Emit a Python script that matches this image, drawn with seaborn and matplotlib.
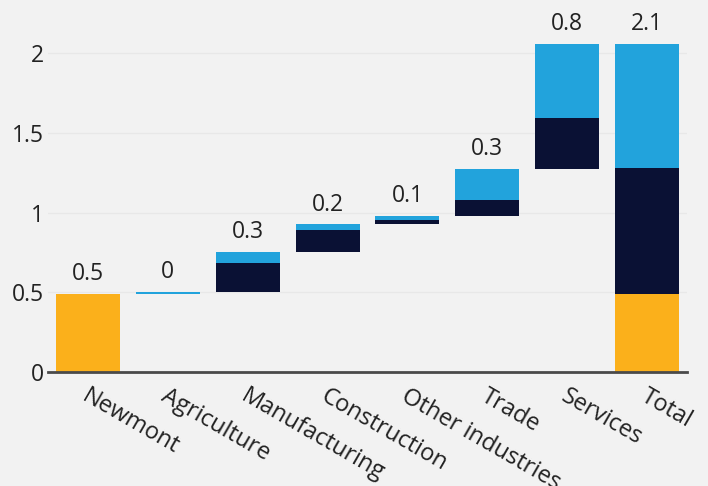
import matplotlib
matplotlib.use("Agg")
import matplotlib.pyplot as plt
import matplotlib.transforms as mtransforms
import seaborn as sns
import numpy as np
import pandas as pd

categories = ["Newmont", "Agriculture", "Manufacturing", "Construction",
              "Other industries", "Trade", "Services", "Total"]
newmont_value = 0.49
sectors = ["Agriculture", "Manufacturing", "Construction", "Other industries", "Trade", "Services"]
sector_dark = [0.0, 0.182, 0.138, 0.031, 0.095, 0.32]
sector_blue = [0.015, 0.069, 0.032, 0.025, 0.197, 0.465]
total_orange = 0.49
total_dark = 0.791
total_blue = 0.778
y_ticks = [0, 0.5, 1, 1.5, 2]
y_tick_labels = ["0", "0.5", "1", "1.5", "2"]

ORANGE = "#FBB01B"
NAVY = "#0A1134"
BLUE = "#22A3DC"
BG = "#F2F2F2"
TEXT = "#222222"

# build arrays
n = len(categories)
orange_h = np.zeros(n)
orange_b = np.zeros(n)
dark_h = np.zeros(n)
dark_b = np.zeros(n)
blue_h = np.zeros(n)
blue_b = np.zeros(n)
tops = np.zeros(n)
changes = np.zeros(n)

orange_h[0] = newmont_value
tops[0] = newmont_value
changes[0] = newmont_value
level = newmont_value
for i, s in enumerate(sectors):
    k = categories.index(s)
    dark_b[k] = level
    dark_h[k] = sector_dark[i]
    level += sector_dark[i]
    blue_b[k] = level
    blue_h[k] = sector_blue[i]
    level += sector_blue[i]
    tops[k] = level
    changes[k] = sector_dark[i] + sector_blue[i]
k = n - 1
orange_h[k] = total_orange
dark_b[k] = total_orange
dark_h[k] = total_dark
blue_b[k] = total_orange + total_dark
blue_h[k] = total_blue
tops[k] = total_orange + total_dark + total_blue
changes[k] = tops[k]

df = pd.DataFrame({"category": categories, "orange": orange_h, "orange_b": orange_b,
                   "dark": dark_h, "dark_b": dark_b, "blue": blue_h, "blue_b": blue_b})

sns.set_theme(style="white")
plt.rcParams["font.family"] = ["Open Sans", "DejaVu Sans"]

fig = plt.figure(figsize=(7.08, 4.86), dpi=100, facecolor=BG)
ax = fig.add_axes([48 / 708, 1 - 372 / 486, 639 / 708, 366.4 / 486])
ax.set_facecolor(BG)

sns.barplot(data=df, x="category", y="orange", order=categories, color=ORANGE,
            bottom=df["orange_b"].values, width=0.8, saturation=1, ax=ax, linewidth=0, zorder=3)
sns.barplot(data=df, x="category", y="dark", order=categories, color=NAVY,
            bottom=df["dark_b"].values, width=0.8, saturation=1, ax=ax, linewidth=0, zorder=3)
sns.barplot(data=df, x="category", y="blue", order=categories, color=BLUE,
            bottom=df["blue_b"].values, width=0.8, saturation=1, ax=ax, linewidth=0, zorder=3)

ax.set_ylim(0, 2.3)
ax.set_xlim(-0.5, n - 0.5)
ax.set_yticks(y_ticks)
ax.set_yticklabels(y_tick_labels)
ax.set_xlabel("")
ax.set_ylabel("")

for y in y_ticks[1:]:
    ax.axhline(y, color="#E8E8E8", linewidth=1, zorder=1)

for sp in ["top", "right", "left"]:
    ax.spines[sp].set_visible(False)
ax.spines["bottom"].set_color("#4A4A4A")
ax.spines["bottom"].set_linewidth(2)
ax.spines["bottom"].set_zorder(4)

ax.tick_params(axis="y", length=0, pad=3, labelsize=16.5, labelcolor=TEXT)
ax.tick_params(axis="x", length=0, pad=9, labelsize=17, labelcolor=TEXT)

offset = mtransforms.ScaledTranslation(1 / 72, 0, fig.dpi_scale_trans)
for lab in ax.get_xticklabels():
    lab.set_rotation(-30)
    lab.set_ha("left")
    lab.set_va("top")
    lab.set_rotation_mode("anchor")
    lab.set_transform(lab.get_transform() + offset)

for i in range(n):
    ax.annotate(f"{round(changes[i], 1):g}", xy=(i, tops[i]), xytext=(0, 10),
                textcoords="offset points", ha="center", va="baseline",
                fontsize=16.5, color=TEXT, zorder=5)

fig.savefig("out.png", dpi=100, facecolor=BG)
